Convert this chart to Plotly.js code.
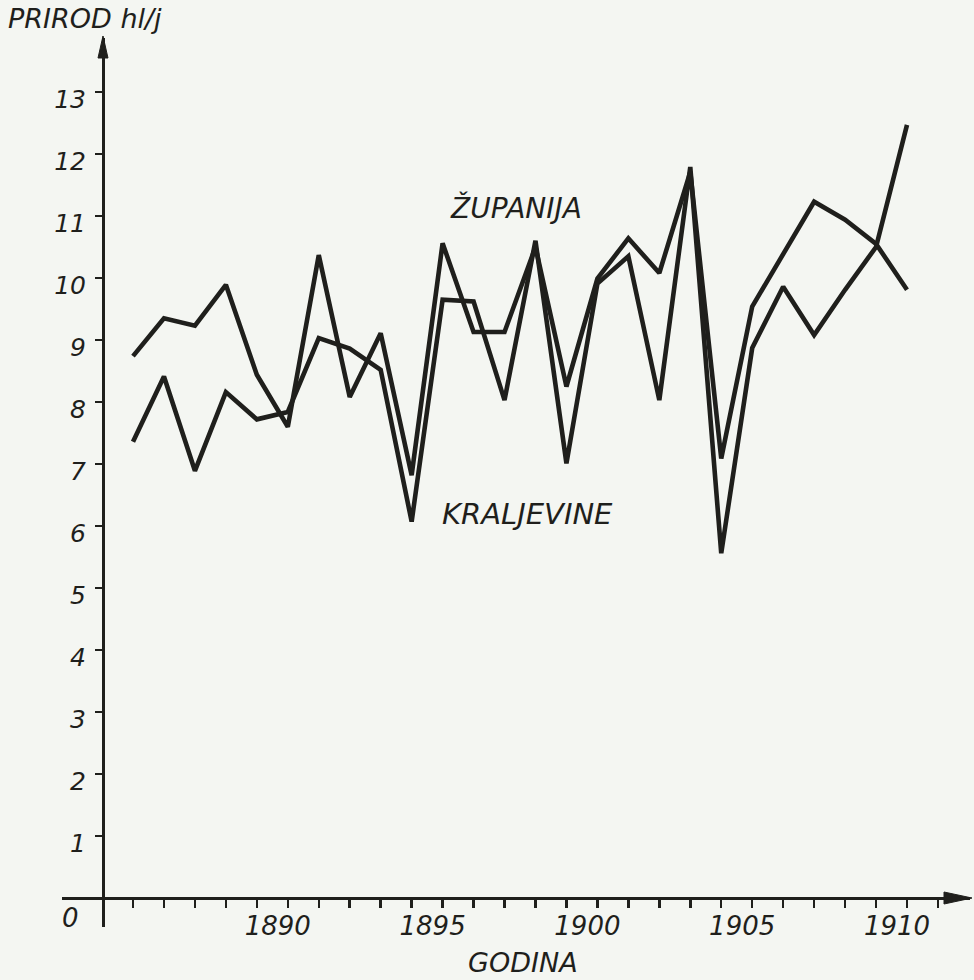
<!DOCTYPE html>
<html>
<head>
<meta charset="utf-8">
<script src="https://cdn.plot.ly/plotly-3.0.1.min.js"></script>
<style>
  html, body { margin: 0; padding: 0; background: #f4f6f2; }
  #chart { width: 974px; height: 980px; }
</style>
</head>
<body>
<div id="chart"></div>
<script>
// ---- data ----
const years = [1885,1886,1887,1888,1889,1890,1891,1892,1893,1894,1895,1896,1897,1898,1899,1900,1901,1902,1903,1904,1905,1906,1907,1908,1909,1910];
const zupanija = [8.74,9.35,9.23,9.89,8.44,7.60,10.37,8.08,9.11,6.82,10.56,9.13,9.13,10.50,8.25,9.99,10.64,10.08,11.71,7.09,9.54,10.40,11.23,10.94,10.55,9.81];
const kraljevine = [7.36,8.41,6.89,8.16,7.72,7.84,9.03,8.86,8.52,6.07,9.65,9.62,8.03,10.60,7.01,9.91,10.35,8.03,11.79,5.56,8.87,9.86,9.08,9.81,10.50,12.47];
const yTicks = [1,2,3,4,5,6,7,8,9,10,11,12,13];
const xTickYears = [1885,1886,1887,1888,1889,1890,1891,1892,1893,1894,1895,1896,1897,1898,1899,1900,1901,1902,1903,1904,1905,1906,1907,1908,1909,1910,1911];
const xLabelYears = [1890,1895,1900,1905,1910];
const yTitle = "PRIROD hl/j";
const xTitle = "GODINA";
const seriesNames = ["ŽUPANIJA","KRALJEVINE"];

// ---- geometry ----
const W = 974, H = 980;
const M = {l: 62, r: 4, t: 38, b: 53};
const PW = W - M.l - M.r, PH = H - M.t - M.b;
const pxPerYear = 30.96;
const x0 = 1885 - (133 - M.l) / pxPerYear;
const x1 = x0 + PW / pxPerYear;
const pxPerUnit = 62;
const zeroPy = 898;
const y0 = -(M.t + PH - zeroPy) / pxPerUnit;
const y1 = (zeroPy - M.t) / pxPerUnit;
const px2paperX = px => (px - M.l) / PW;
const py2paperY = py => (M.t + PH - py) / PH;
const yAxisPx = 103;

const ink = '#1f1f1c';
const fam = 'DejaVu Sans, Liberation Sans, sans-serif';

const traces = [
  {x: years, y: zupanija, name: seriesNames[0], mode: 'lines', line: {color: ink, width: 4.6}},
  {x: years, y: kraljevine, name: seriesNames[1], mode: 'lines', line: {color: ink, width: 4.6}}
];

function tri(p1, p2, p3) {
  const f = p => px2paperX(p[0]).toFixed(5) + ',' + py2paperY(p[1]).toFixed(5);
  return 'M' + f(p1) + ' L' + f(p2) + ' L' + f(p3) + ' Z';
}

const layout = {
  width: W, height: H,
  margin: M,
  paper_bgcolor: '#f4f6f2',
  plot_bgcolor: '#f4f6f2',
  showlegend: false,
  font: {family: fam, color: ink, style: 'italic'},
  xaxis: {
    range: [x0, x1],
    anchor: 'free',
    position: py2paperY(zeroPy),
    showgrid: false, zeroline: false,
    showline: true, linecolor: ink, linewidth: 3,
    ticks: 'outside', ticklen: 8, tickwidth: 2.5, tickcolor: ink,
    tickvals: xTickYears,
    ticktext: xTickYears.map(v => xLabelYears.includes(v) ? String(v) : ''),
    tickfont: {family: fam, size: 26, color: ink, style: 'italic'},
    ticklabelstandoff: -4,
    ticklabelshift: -10
  },
  yaxis: {
    range: [y0, y1],
    anchor: 'free',
    position: px2paperX(yAxisPx),
    showgrid: false, zeroline: false,
    showline: true, linecolor: ink, linewidth: 3,
    ticks: 'outside', ticklen: 7, tickwidth: 2.5, tickcolor: ink,
    tickvals: yTicks,
    ticktext: yTicks.map(String),
    tickfont: {family: fam, size: 25, color: ink, style: 'italic'},
    ticklabelstandoff: 4,
    ticklabelshift: 7
  },
  shapes: [
    {type: 'path', xref: 'paper', yref: 'paper', fillcolor: ink, line: {color: ink, width: 1},
     path: tri([yAxisPx, 36], [yAxisPx - 5, 58], [yAxisPx + 5, 58])},
    {type: 'path', xref: 'paper', yref: 'paper', fillcolor: ink, line: {color: ink, width: 1},
     path: tri([972, zeroPy], [944, zeroPy - 6], [944, zeroPy + 6])}
  ],
  annotations: [
    {xref: 'paper', yref: 'paper', x: px2paperX(6), y: py2paperY(18), xanchor: 'left', yanchor: 'middle',
     text: yTitle, showarrow: false, font: {family: fam, size: 27, color: ink, style: 'italic'}},
    {xref: 'paper', yref: 'paper', x: px2paperX(523), y: py2paperY(963), xanchor: 'center', yanchor: 'middle',
     text: xTitle, showarrow: false, font: {family: fam, size: 27, color: ink, style: 'italic'}},
    {xref: 'paper', yref: 'paper', x: px2paperX(70), y: py2paperY(918), xanchor: 'center', yanchor: 'middle',
     text: '0', showarrow: false, font: {family: fam, size: 26, color: ink, style: 'italic'}},
    {xref: 'paper', yref: 'paper', x: px2paperX(516), y: py2paperY(208), xanchor: 'center', yanchor: 'middle',
     text: seriesNames[0], showarrow: false, font: {family: fam, size: 28, color: ink, style: 'italic'}},
    {xref: 'paper', yref: 'paper', x: px2paperX(527), y: py2paperY(514), xanchor: 'center', yanchor: 'middle',
     text: seriesNames[1], showarrow: false, font: {family: fam, size: 29, color: ink, style: 'italic'}}
  ]
};

Plotly.newPlot('chart', traces, layout, {staticPlot: true, displayModeBar: false});
</script>
</body>
</html>
